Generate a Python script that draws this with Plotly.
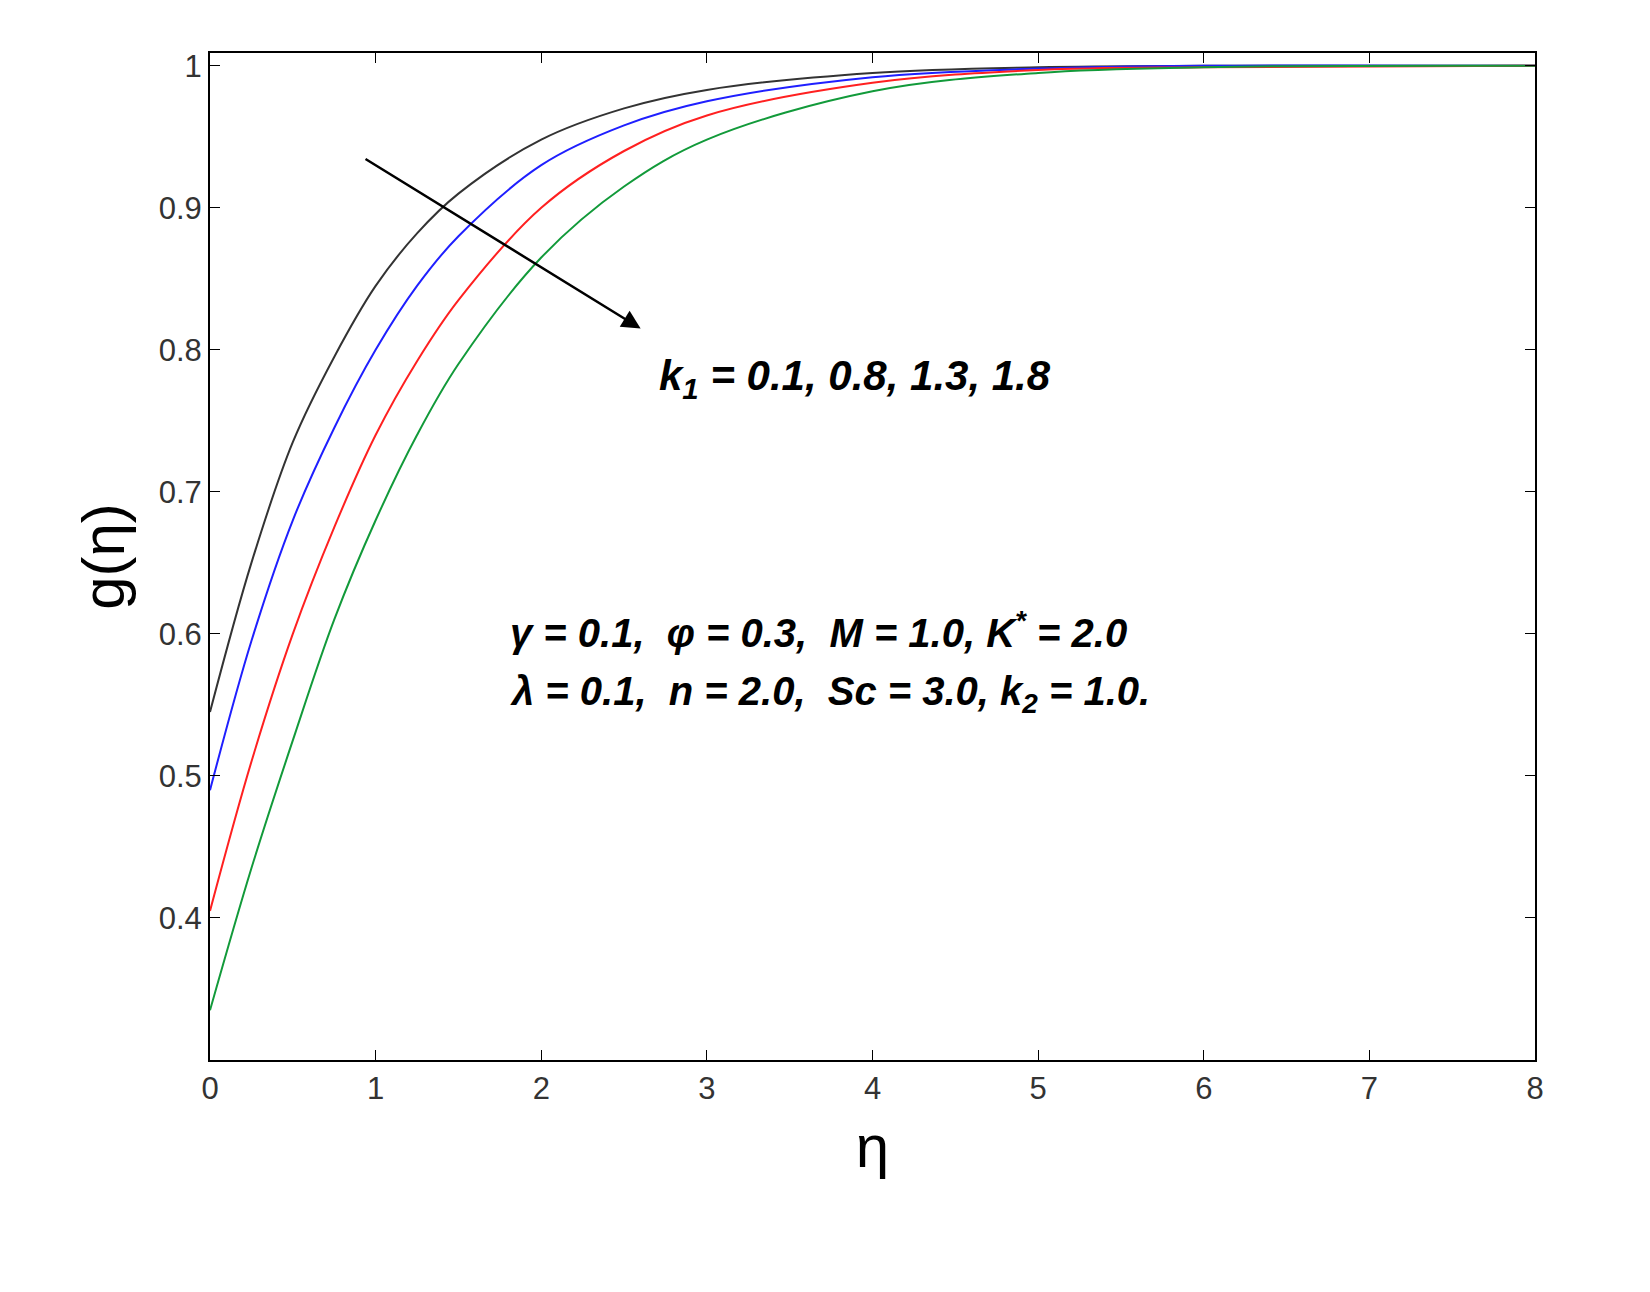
import plotly.graph_objects as go

eta = [0, 0.25, 0.5, 0.75, 1, 1.25, 1.5, 2, 2.5, 3, 4, 5, 6, 8]
g_k01 = [0.545, 0.65, 0.735, 0.795, 0.845, 0.882, 0.91, 0.948, 0.97, 0.983, 0.995, 0.999, 1.0, 1.0]
g_k08 = [0.49, 0.595, 0.68, 0.745, 0.80, 0.845, 0.88, 0.93, 0.958, 0.975, 0.992, 0.998, 1.0, 1.0]
g_k13 = [0.405, 0.51, 0.60, 0.675, 0.74, 0.792, 0.835, 0.90, 0.94, 0.965, 0.988, 0.997, 0.999, 1.0]
g_k18 = [0.335, 0.435, 0.525, 0.61, 0.68, 0.74, 0.79, 0.865, 0.915, 0.948, 0.982, 0.995, 0.999, 1.0]
colors = ["#333333", "#1f1fff", "#ff2020", "#129a3a"]

fig = go.Figure()
for ys, c in zip([g_k01, g_k08, g_k13, g_k18], colors):
    fig.add_trace(go.Scatter(x=eta, y=ys, mode="lines",
                             line=dict(color=c, width=2, shape="spline", smoothing=1.0), showlegend=False))

fig.add_annotation(x=2.6, y=0.815, ax=0.93, ay=0.935, xref="x", yref="y", axref="x", ayref="y",
                   showarrow=True, arrowhead=2, arrowsize=1.5, arrowwidth=2.5, arrowcolor="black", text="")
fig.add_annotation(x=2.7, y=0.78, xanchor="left", showarrow=False,
                   text="<b><i>k<sub>1</sub> = 0.1, 0.8, 1.3, 1.8</i></b>", font=dict(size=42, color="black"))
fig.add_annotation(x=1.8, y=0.603, xanchor="left", showarrow=False,
                   text="<b><i>γ = 0.1,  φ = 0.3,  M = 1.0, K<sup>*</sup> = 2.0</i></b>", font=dict(size=40, color="black"))
fig.add_annotation(x=1.8, y=0.558, xanchor="left", showarrow=False,
                   text="<b><i>λ = 0.1,  n = 2.0,  Sc = 3.0, k<sub>2</sub> = 1.0.</i></b>", font=dict(size=40, color="black"))

ax = dict(showline=True, linecolor="black", linewidth=2, mirror="ticks", ticks="inside", ticklen=10,
          tickcolor="black", showgrid=False, zeroline=False, tickfont=dict(size=31, color="#333"))
fig.update_xaxes(range=[0, 8], dtick=1, title=dict(text="η", font=dict(size=60), standoff=20), **ax)
fig.update_yaxes(range=[0.3, 1.009], tickvals=[0.4, 0.5, 0.6, 0.7, 0.8, 0.9, 1.0],
                 ticktext=["0.4", "0.5", "0.6", "0.7", "0.8", "0.9", "1"],
                 title=dict(text="g(η)", font=dict(size=60), standoff=15), **ax)
fig.update_layout(width=1650, height=1292, autosize=False, plot_bgcolor="white", paper_bgcolor="white",
                  margin=dict(l=202, r=123, t=45, b=240), font=dict(family="Liberation Sans, Arial", color="black"))
fig.write_html("out.html")
